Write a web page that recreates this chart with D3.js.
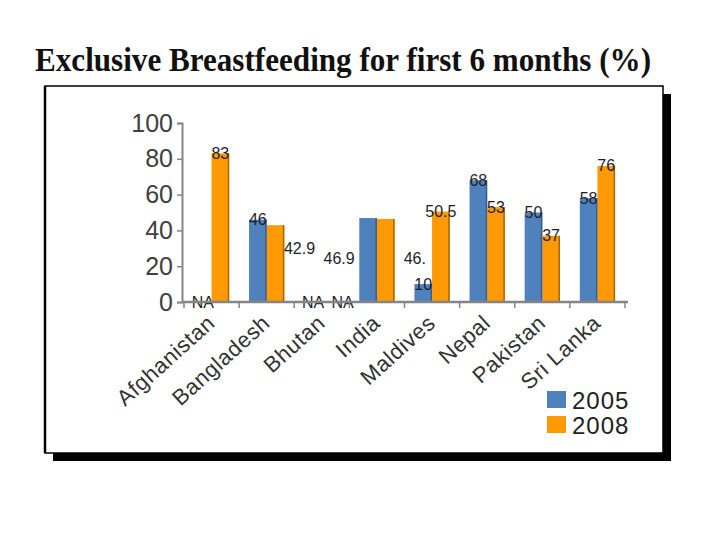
<!DOCTYPE html>
<html>
<head>
<meta charset="utf-8">
<script src="https://cdn.jsdelivr.net/npm/d3@7"></script>
<style>
  body { margin: 0; background: #fff; }
  svg { display: block; }
</style>
</head>
<body>
<script>
// data
var countries = ["Afghanistan", "Bangladesh", "Bhutan", "India", "Maldives", "Nepal", "Pakistan", "Sri Lanka"];
var years = ["2005", "2008"];
var values2005 = [null, 46, null, 46.9, 10, 68, 50, 58];
var values2008 = [83, 42.9, null, 46.4, 50.5, 53, 37, 76];
var labels2005 = ["NA", "46", "NA", "46.9", "10", "68", "50", "58"];
var labels2008 = ["83", "42.9", "NA", "46.", "50.5", "53", "37", "76"];
var yTicks = [0, 20, 40, 60, 80, 100];

// some labels sit off their bar in the original, shifted in pixels
var labelNudge = {
  "Bangladesh-2008": [24, 23],
  "India-2005": [-29, 40],
  "India-2008": [29, 40],
  "Bhutan-2008": [12, 0]
};

var colors = { "2005": "#4f81bd", "2008": "#ff9a05" };
var edges = { "2005": "#3a5f8c", "2008": "#a8680a" };

var W = 720, H = 540;
var svg = d3.select("body").append("svg").attr("width", W).attr("height", H);

// title
svg.append("text")
    .attr("x", 35).attr("y", 71)
    .attr("textLength", 616).attr("lengthAdjust", "spacingAndGlyphs")
    .attr("font-family", "Liberation Serif, Times New Roman, serif")
    .attr("font-weight", "bold").attr("font-size", 33)
    .attr("fill", "#111")
    .text("Exclusive Breastfeeding for first 6 months (%)");

// frame with shadow
svg.append("rect").attr("x", 53).attr("y", 94).attr("width", 618).attr("height", 367).attr("fill", "#000");
svg.append("rect").attr("x", 45).attr("y", 86).attr("width", 618).attr("height", 367)
    .attr("fill", "#fff").attr("stroke", "#000").attr("stroke-width", 1.5);
svg.append("line").attr("x1", 45).attr("y1", 86).attr("x2", 45).attr("y2", 453)
    .attr("stroke", "#000").attr("stroke-width", 2.5);

var rows = countries.map(function(c, i) {
  return { country: c, vals: [
    { year: "2005", value: values2005[i], label: labels2005[i] },
    { year: "2008", value: values2008[i], label: labels2008[i] }
  ]};
});

var x0 = d3.scaleBand().domain(countries).range([184, 625]).paddingInner(0.36).paddingOuter(0.18);
var x1 = d3.scaleBand().domain(years).range([0, x0.bandwidth()]);
var y = d3.scaleLinear().domain([0, 100]).range([302, 123]);

var axisColor = "#858585";

// y axis
var yAxis = svg.append("g").attr("transform", "translate(182,0)")
    .call(d3.axisLeft(y).tickValues(yTicks).tickSize(5).tickPadding(4));
yAxis.select(".domain").attr("stroke", axisColor).attr("stroke-width", 2);
yAxis.selectAll(".tick line").attr("stroke", axisColor).attr("stroke-width", 1.5);
yAxis.selectAll(".tick text")
    .attr("font-family", "Liberation Sans, Arial, sans-serif")
    .attr("font-size", 25).attr("fill", "#404040");

// bars
var groups = svg.append("g").selectAll("g").data(rows).join("g")
    .attr("transform", function(d) { return "translate(" + x0(d.country) + ",0)"; });

groups.selectAll("rect.bar").data(function(d) { return d.vals.filter(function(v) { return v.value != null; }); })
  .join("rect").attr("class", "bar")
    .attr("x", function(d) { return x1(d.year); })
    .attr("y", function(d) { return y(d.value); })
    .attr("width", x1.bandwidth())
    .attr("height", function(d) { return y(0) - y(d.value); })
    .attr("fill", function(d) { return colors[d.year]; });

groups.selectAll("rect.edge").data(function(d) { return d.vals.filter(function(v) { return v.value != null; }); })
  .join("rect").attr("class", "edge")
    .attr("x", function(d) { return x1(d.year) + x1.bandwidth() - 1.5; })
    .attr("y", function(d) { return y(d.value); })
    .attr("width", 1.5)
    .attr("height", function(d) { return y(0) - y(d.value); })
    .attr("fill", function(d) { return edges[d.year]; });

// x axis
var xAxis = svg.append("g").attr("transform", "translate(0,302)");
xAxis.append("line").attr("x1", 182).attr("x2", 628).attr("y1", 0).attr("y2", 0)
    .attr("stroke", axisColor).attr("stroke-width", 2.5);
var bounds = countries.map(function(c) { return x0(c) - x0.step() * x0.paddingInner() / 2; });
bounds.push(x0.range()[1]);
xAxis.selectAll("line.tick").data(bounds).join("line").attr("class", "tick")
    .attr("x1", function(d) { return d; }).attr("x2", function(d) { return d; })
    .attr("y1", 0).attr("y2", 6)
    .attr("stroke", axisColor).attr("stroke-width", 1.5);

// value labels centred on bar tops
groups.selectAll("text.lbl").data(function(d) {
    return d.vals.map(function(v) { return Object.assign({ country: d.country }, v); });
  })
  .join("text").attr("class", "lbl")
    .attr("x", function(d) {
      var n = labelNudge[d.country + "-" + d.year];
      return x1(d.year) + x1.bandwidth() / 2 + (n ? n[0] : 0);
    })
    .attr("y", function(d) {
      var n = labelNudge[d.country + "-" + d.year];
      return y(d.value || 0) + (n ? n[1] : 0);
    })
    .attr("text-anchor", "middle").attr("dominant-baseline", "central")
    .attr("font-family", "Liberation Sans, Arial, sans-serif")
    .attr("font-size", 16).attr("fill", "#1e1e2a")
    .text(function(d) { return d.label; });

// category labels
svg.append("g").selectAll("text").data(countries).join("text")
    .attr("transform", function(d) {
      return "translate(" + (x0(d) + x0.bandwidth() / 2 - 6) + ",313) rotate(-42)";
    })
    .attr("text-anchor", "end").attr("dominant-baseline", "hanging")
    .attr("font-family", "Liberation Sans, Arial, sans-serif")
    .attr("font-size", 22).attr("letter-spacing", 0.6).attr("fill", "#333")
    .text(function(d) { return d; });

// legend
var legend = svg.append("g").selectAll("g").data(years).join("g")
    .attr("transform", function(d, i) { return "translate(547," + (391 + i * 25) + ")"; });
legend.append("rect").attr("width", 19).attr("height", 17)
    .attr("fill", function(d) { return colors[d]; });
legend.append("text").attr("x", 25).attr("y", 9)
    .attr("dominant-baseline", "central")
    .attr("font-family", "Liberation Sans, Arial, sans-serif")
    .attr("font-size", 24).attr("letter-spacing", 1).attr("fill", "#222")
    .text(function(d) { return d; });
</script>
</body>
</html>
